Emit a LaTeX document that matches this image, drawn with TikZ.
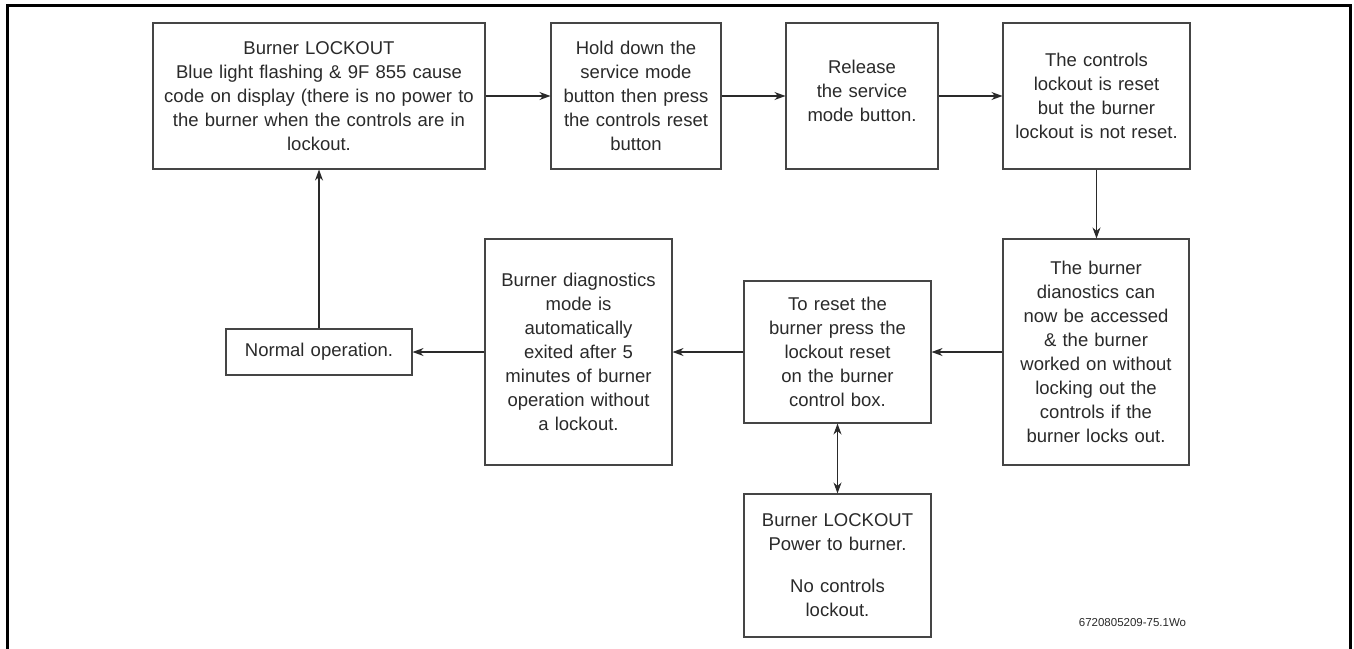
\documentclass[tikz,border=0pt]{standalone}
\usepackage{fontspec}
\setmainfont{Liberation Sans}
\usetikzlibrary{arrows.meta}
\definecolor{txt}{HTML}{2A2A2A}
\definecolor{brd}{HTML}{454545}
\tikzset{
  boxnode/.style={draw=brd, line width=1.1pt, inner xsep=0pt, inner ysep=0pt, align=center,
    text=txt, font=\fontsize{18.5pt}{24pt}\selectfont},
  arr/.style={draw=txt, line width=1.1pt, -{Stealth[length=11pt,width=8pt]}},
  darr/.style={draw=txt, line width=1.1pt, {Stealth[length=11pt,width=8pt]}-{Stealth[length=11pt,width=8pt]}},
  frameline/.style={draw=black, line width=3pt}
}
\begin{document}
\begin{tikzpicture}[x=1pt,y=-1pt]
\useasboundingbox (0,0) rectangle (1354,648);
\fill[white] (0,0) rectangle (1354,648);
\draw[frameline] (7,650) -- (7,5) -- (1350,5) -- (1350,650);

\node[boxnode, text width=332pt, minimum height=146pt] (b1) at (319,96)
  {Burner LOCKOUT\\Blue light flashing \& 9F 855 cause\\code on display (there is no power to\\the burner when the controls are in\\lockout.};
\node[boxnode, text width=170pt, minimum height=146pt] (b2) at (636,96)
  {Hold down the\\service mode\\button then press\\the controls reset\\button};
\node[boxnode, text width=152pt, minimum height=146pt] (b3) at (862,96)
  {Release\\the service\\mode button.\\[-14pt]\mbox{}};
\node[boxnode, text width=187pt, minimum height=146pt] (b4) at (1096.5,96)
  {The controls\\lockout is reset\\but the burner\\lockout is not reset.};
\node[boxnode, text width=186pt, minimum height=226pt] (b5) at (1096,352)
  {The burner\\dianostics can\\now be accessed\\\& the burner\\worked on without\\locking out the\\controls if the\\burner locks out.};
\node[boxnode, text width=187pt, minimum height=142pt] (b6) at (837.5,352)
  {To reset the\\burner press the\\lockout reset\\on the burner\\control box.};
\node[boxnode, text width=187pt, minimum height=226pt] (b7) at (578.5,352)
  {Burner diagnostics\\mode is\\automatically\\exited after 5\\minutes of burner\\operation without\\a lockout.};
\node[boxnode, text width=186pt, minimum height=46pt] (b8) at (319,352)
  {Normal operation.};
\node[boxnode, text width=187pt, minimum height=143pt] (b9) at (837.5,565.5)
  {Burner LOCKOUT\\Power to burner.\\[18pt]No controls\\lockout.};
\node[text=txt, font=\fontsize{11.5pt}{14pt}\selectfont, inner sep=0pt] (id) at (1132.5,623) {6720805209-75.1Wo};

\draw[arr] (b1) -- (b2);
\draw[arr] (b2) -- (b3);
\draw[arr] (b3) -- (b4);
\draw[arr] (b4.south) -- (b4.south |- b5.north);
\draw[arr] (b5) -- (b6);
\draw[arr] (b6) -- (b7);
\draw[arr] (b7) -- (b8);
\draw[arr] (b8.north) -- (b1.south);
\draw[darr] (b6.south) -- (b9.north);
\end{tikzpicture}
\end{document}
